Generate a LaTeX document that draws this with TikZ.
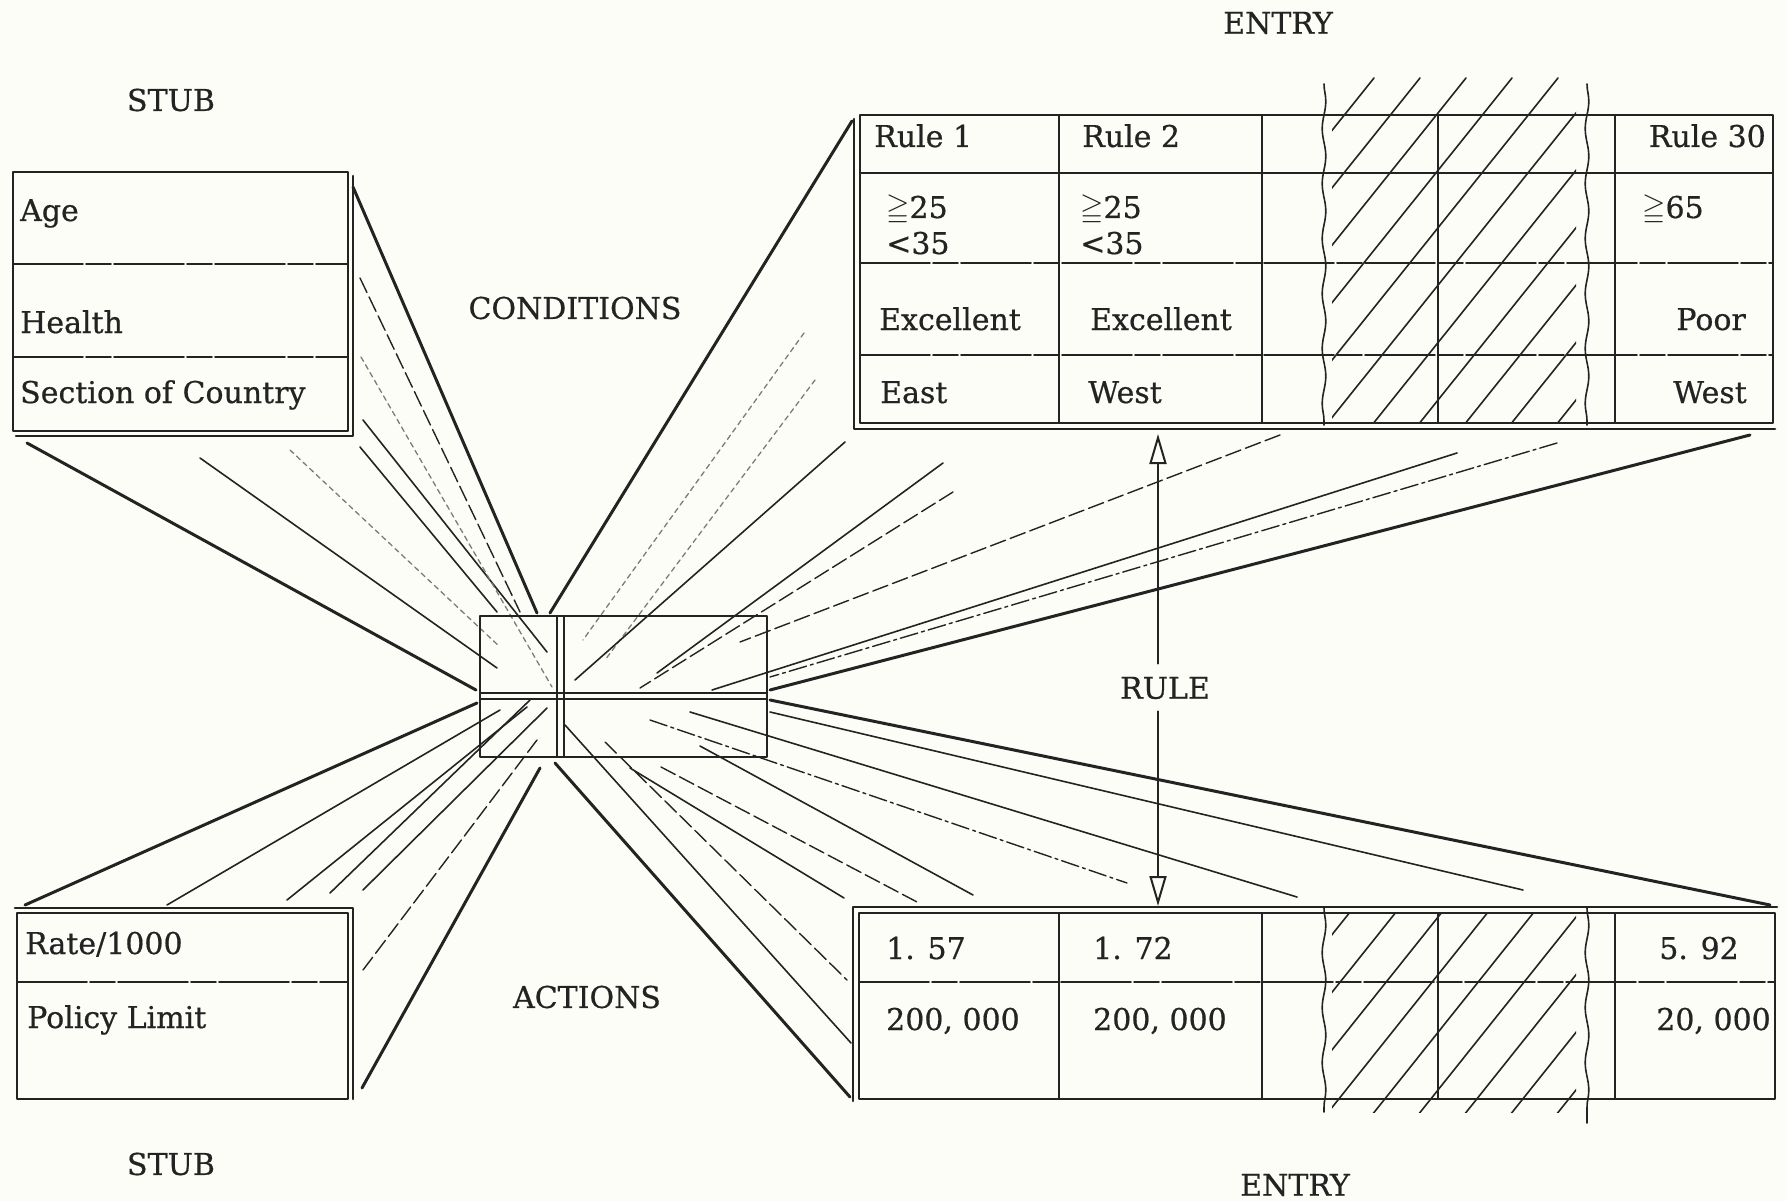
\documentclass[tikz,border=0pt]{standalone}
\usepackage{amssymb}
\usepackage{fontspec}
\setmainfont[FakeBold=0.6]{DejaVu Serif}
\usetikzlibrary{arrows.meta,calc,decorations.pathmorphing}
\definecolor{paper}{RGB}{253,253,248}
\definecolor{ink}{RGB}{35,35,35}
\newcommand{\dtsize}{\fontsize{30}{34}\selectfont}
\tikzset{
  lbl/.style={font=\dtsize,inner sep=0pt,text=ink},
  lcell/.style={lbl,anchor=base west},
  rcell/.style={lbl,anchor=base east},
  frame/.style={draw=ink,line width=2.6pt},
  rowrule/.style={draw=ink,line width=1.6pt,dash pattern=on 70pt off 3pt on 25pt off 3pt},
  colrule/.style={draw=ink,line width=1.8pt},
  heavy/.style={draw=ink,line width=3pt},
  ray/.style={draw=ink,line width=1.6pt},
  dray/.style={draw=ink,line width=1.4pt,dash pattern=on 16pt off 5pt},
  pray/.style={draw=ink!60,line width=1.3pt,dash pattern=on 5pt off 4pt},
  xray/.style={draw=ink,line width=1.4pt,dash pattern=on 18pt off 4pt on 3pt off 4pt},
  wavy/.style={draw=ink,line width=1.6pt,decorate,
    decoration={snake,amplitude=1.8pt,segment length=55pt}},
  hatch/.style={draw=ink,line width=1.6pt},
  arr/.style={draw=ink,line width=2pt,-{Triangle[open,length=30pt,width=17pt]}},
  every picture/.style={line cap=round,line join=round}}

\begin{document}
\begin{tikzpicture}[x=1pt,y=-1pt]
  \fill[paper] (0,0) rectangle (1786,1201);
  \useasboundingbox (0,0) rectangle (1786,1201);
  % fan of rays toward the hub
  \foreach \xa/\ya/\xb/\yb/\s in {
    200/458/497/668/ray, 290/450/500/647/pray, 360/447/497/612/ray,
    363/420/547/652/ray, 361/357/552/687/pray, 360/278/520/612/dray,
    804/333/583/640/pray, 815/380/605/660/pray, 845/442/575/680/ray,
    943/463/657/673/ray, 953/492/640/688/dray, 1280/435/740/642/dray,
    1457/453/712/690/ray, 1557/443/770/677/xray,
    167/905/500/710/ray, 287/900/527/707/ray, 330/893/530/700/ray,
    363/890/547/708/ray, 363/970/537/740/dray,
    565/725/851/1043/ray, 605/742/847/980/dray, 630/768/844/898/ray,
    661/767/917/902/dray, 700/746/973/895/ray, 650/720/1127/883/xray,
    690/712/1297/897/ray, 770/712/1523/890/ray}
    \draw[\s] (\xa,\ya) -- (\xb,\yb);
  \path (353,187) coordinate (cs-ne) (27,443) coordinate (cs-sw)
        (852,121) coordinate (ce-nw) (1750,435) coordinate (ce-se)
        (25,905) coordinate (as-nw) (362,1088) coordinate (as-se)
        (850,1097) coordinate (ae-sw) (1770,905) coordinate (ae-ne)
        (537,613) coordinate (hub-n1) (550,613) coordinate (hub-n2)
        (476,690) coordinate (hub-w1) (477,703) coordinate (hub-w2)
        (540,768) coordinate (hub-s1) (555,763) coordinate (hub-s2)
        (770,690) coordinate (hub-e1) (770,700) coordinate (hub-e2);
  \draw[heavy] (cs-ne) -- (hub-n1) (ce-nw) -- (hub-n2) (cs-sw) -- (hub-w1)
    (as-nw) -- (hub-w2) (as-se) -- (hub-s1) (ae-sw) -- (hub-s2)
    (ce-se) -- (hub-e1) (ae-ne) -- (hub-e2);
  % hub
  \draw[frame] (480,616) rectangle (767,757);
  \draw[colrule] (480,693) -- (767,693) (480,699) -- (767,699)
    (557,616) -- (557,757) (564,616) -- (564,757);
  % condition stub
  \draw[frame] (13,172) rectangle (348,431);
  \draw[frame] (353,176) -- (353,436) -- (16,436);
  \draw[rowrule] (13,264) -- (348,264) (13,357) -- (348,357);
  \node[lcell] (age) at (20,221) {Age};
  \node[lcell] (health) at (20,333) {Health};
  \node[lcell] (sect) at (20,403) {Section of Country};
  % condition entry
  \draw[frame] (860,115) rectangle (1773,423);
  \draw[frame] (854,119) -- (854,429) -- (1775,429);
  \draw[colrule] (860,173) -- (1773,173);
  \draw[rowrule] (860,263) -- (1773,263) (860,355) -- (1773,355);
  \foreach \x in {1059,1262,1438,1615} \draw[colrule] (\x,115) -- (\x,423);
  \begin{scope}
    \clip (1332,78) rectangle (1576,423);
    \foreach \x in {1000,1046,...,1600} \draw[hatch] (\x,430) -- ++(282,-352);
  \end{scope}
  \draw[wavy] (1324,84) -- (1324,425); \draw[wavy] (1587,84) -- (1587,425);
  \node[lcell] (r1) at (874,147) {Rule 1};
  \node[lcell] (r2) at (1082,147) {Rule 2};
  \node[rcell] (r30) at (1766,147) {Rule 30};
  \node[lcell] (ageA) at (886,218) {$\geqq$25};
  \node[lcell] (ageB) at (886,254) {<35};
  \node[lcell] (ageC) at (1080,218) {$\geqq$25};
  \node[lcell] (ageD) at (1080,254) {<35};
  \node[lcell] (ageE) at (1642,218) {$\geqq$65};
  \node[lcell] (hA) at (879,330) {Excellent};
  \node[lcell] (hB) at (1090,330) {Excellent};
  \node[rcell] (hC) at (1746,330) {Poor};
  \node[lcell] (sA) at (880,403) {East};
  \node[lcell] (sB) at (1088,403) {West};
  \node[rcell] (sC) at (1747,403) {West};
  % action stub
  \draw[frame] (17,913) rectangle (348,1099);
  \draw[frame] (15,908) -- (353,908) -- (353,1099);
  \draw[rowrule] (17,982) -- (348,982);
  \node[lcell] (rate) at (25,954) {Rate/1000};
  \node[lcell] (limit) at (27,1028) {Policy Limit};
  % action entry
  \draw[frame] (859,913) rectangle (1775,1099);
  \draw[frame] (853,1101) -- (853,907) -- (1777,907);
  \draw[rowrule] (859,982) -- (1775,982);
  \foreach \x in {1059,1262,1438,1615} \draw[colrule] (\x,913) -- (\x,1099);
  \begin{scope}
    \clip (1332,913) rectangle (1576,1112);
    \foreach \x in {1000,1046,...,1600} \draw[hatch] (\x,1120) -- ++(202,-253);
  \end{scope}
  \draw[wavy] (1324,908) -- (1324,1112); \draw[wavy] (1587,908) -- (1587,1123);
  \node[lcell] (vA) at (886,959) {1. 57};
  \node[lcell] (vB) at (1093,959) {1. 72};
  \node[rcell] (vC) at (1739,959) {5. 92};
  \node[lcell] (lA) at (886,1030) {200, 000};
  \node[lcell] (lB) at (1093,1030) {200, 000};
  \node[rcell] (lC) at (1771,1030) {20, 000};
  % captions
  \node[lbl] (stubT) at (171,100) {STUB};
  \node[lbl] (entryT) at (1278,23) {ENTRY};
  \node[lbl] (cond) at (575,308) {CONDITIONS};
  \node[lbl] (act) at (587,997) {ACTIONS};
  \node[lbl] (stubB) at (171,1164) {STUB};
  \node[lbl] (entryB) at (1295,1185) {ENTRY};
  \node[lbl] (rulelbl) at (1165,688) {RULE};
  \coordinate (rtop) at (1158,434); \coordinate (rbot) at (1158,906);
  \draw[arr,shorten <=13pt] (rulelbl.north -| rtop) -- (rtop);
  \draw[arr,shorten <=12pt] (rulelbl.south -| rbot) -- (rbot);
\end{tikzpicture}
\end{document}
